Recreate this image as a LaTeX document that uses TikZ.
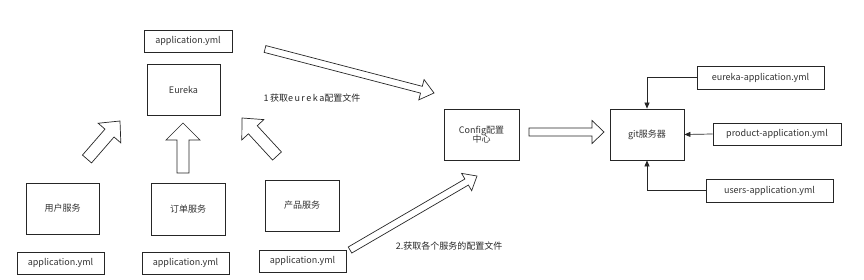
\documentclass[tikz,border=0pt]{standalone}
\usepackage{fontspec}
\setmainfont{Noto Sans CJK SC}
\usetikzlibrary{calc,arrows.meta}
\newcommand\blockarrow[5]{%
  \coordinate (tmpH) at ($(#2)!#5!(#1)$);
  \draw[blockarr] ($(#1)!#3!90:(#2)$) -- ($(tmpH)!#3!90:(#2)$) -- ($(tmpH)!#4!90:(#2)$)
    -- (#2) -- ($(tmpH)!#4!-90:(#2)$) -- ($(tmpH)!#3!-90:(#2)$) -- ($(#1)!#3!-90:(#2)$) -- cycle;
}
\begin{document}
\begin{tikzpicture}[x=1pt,y=-1pt,
  box/.style={draw=black!85, line width=0.8pt, fill=white, text=black!80, font=\fontsize{9}{11}\selectfont, align=center, inner sep=0pt},
  blockarr/.style={draw=black!85, line width=0.7pt, fill=white, line join=miter},
  conn/.style={draw=black!85, line width=0.7pt, -{Triangle[length=6pt,width=5pt]}},
  lbl/.style={text=black!85, font=\fontsize{9}{10}\selectfont, inner sep=0pt}]
\useasboundingbox (0,0) rectangle (864,280);
% boxes
\node[box, minimum width=88pt, minimum height=22pt] (appE) at (188,41) {application.yml};
\node[box, minimum width=73pt, minimum height=51pt] (eureka) at (183.5,89.5) {Eureka};
\node[box, minimum width=73pt, minimum height=51pt] (user) at (62.5,208.5) {用户服务};
\node[box, minimum width=74pt, minimum height=52pt] (order) at (188,209) {订单服务};
\node[box, minimum width=74pt, minimum height=51pt] (product) at (302,205.5) {产品服务};
\node[box, minimum width=87pt, minimum height=22pt] (app1) at (60.5,263) {application.yml};
\node[box, minimum width=87pt, minimum height=22pt] (app2) at (185.5,263) {application.yml};
\node[box, minimum width=87pt, minimum height=22pt] (app3) at (302.5,261) {application.yml};
\node[box, minimum width=75pt, minimum height=51pt] (config) at (481.5,134.5) {Config配置\\[-2pt]中心};
\node[box, minimum width=74pt, minimum height=51pt] (git) at (647,134.5) {git服务器};
\node[box, minimum width=127pt, minimum height=23pt] (eapp) at (760.5,77.5) {eureka-application.yml};
\node[box, minimum width=128pt, minimum height=22pt] (papp) at (777,134) {product-application.yml};
\node[box, minimum width=127pt, minimum height=23pt] (uapp) at (769.5,190.5) {users-application.yml};
% connectors to git
\draw[conn] (eapp.west) -| (git.north);
\draw[conn] (papp.west) -- (git.east);
\draw[conn] (uapp.west) -| (git.south);
% block arrow end points
\coordinate (a1s) at (87,159);  \coordinate (a1e) at (120,121);
\coordinate (a2s) at (183,173); \coordinate (a2e) at (183,123);
\coordinate (a3s) at (277,156); \coordinate (a3e) at (242,118);
\coordinate (t1s) at (265,49);  \coordinate (t1e) at (434,93);
\coordinate (t2s) at (350,250); \coordinate (t2e) at (477,176);
\coordinate (cgs) at (529,132); \coordinate (cge) at (604,132);
\blockarrow{a1s}{a1e}{6pt}{15pt}{16pt}
\blockarrow{a2s}{a2e}{6pt}{17pt}{17pt}
\blockarrow{a3s}{a3e}{6pt}{15pt}{16pt}
\blockarrow{t1s}{t1e}{3.5pt}{10.5pt}{13pt}
\blockarrow{t2s}{t2e}{3.5pt}{10pt}{12pt}
\blockarrow{cgs}{cge}{4pt}{11.5pt}{12pt}
% labels
\node[lbl] (l1) at (312,98) {1\,获取e\,u\,r\,e\,k\,a配置文件};
\node[lbl] (l2) at (449,246) {2.获取各个服务的配置文件};
\end{tikzpicture}
\end{document}
